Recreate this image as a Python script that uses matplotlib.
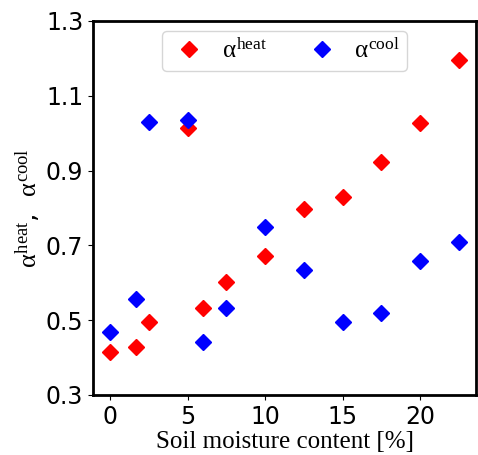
import matplotlib
matplotlib.use("Agg")
import matplotlib.pyplot as plt

plt.rcParams['mathtext.fontset'] = 'custom'
plt.rcParams['mathtext.rm'] = 'Liberation Serif'
plt.rcParams['mathtext.it'] = 'Liberation Serif'

# soil moisture content [%]
moisture = [0, 1.7, 2.5, 5, 6, 7.5, 10, 12.5, 15, 17.5, 20, 22.5]
alpha_heat = [0.416, 0.429, 0.494, 1.013, 0.533, 0.603, 0.672, 0.796, 0.829, 0.922, 1.026, 1.196]
alpha_cool = [0.468, 0.556, 1.030, 1.035, 0.443, 0.533, 0.750, 0.634, 0.494, 0.518, 0.659, 0.708]

fig = plt.figure(figsize=(4.78, 4.55), dpi=100)
ax = fig.add_axes([93 / 478, 1 - 395 / 455, (476 - 93) / 478, (395 - 21) / 455])

ax.plot(moisture, alpha_heat, 'D', color='red', markersize=8.5, linestyle='none', label=r'$\alpha^{\rm heat}$')
ax.plot(moisture, alpha_cool, 'D', color='blue', markersize=8.5, linestyle='none', label=r'$\alpha^{\rm cool}$')

ax.set_xlim(-1.1, 23.6)
ax.set_ylim(0.3, 1.3)
ax.set_yticks([0.3, 0.5, 0.7, 0.9, 1.1, 1.3])
ax.set_xticks([0, 5, 10, 15, 20])
ax.tick_params(labelsize=17)
for s in ax.spines.values():
    s.set_linewidth(2)

ax.set_xlabel('Soil moisture content [%]', family='Liberation Serif', fontsize=18, labelpad=2)
ax.set_ylabel(r'$\alpha^{\rm heat}$,  $\alpha^{\rm cool}$', fontsize=19, labelpad=2)

ax.legend(loc='upper center', ncol=2, fontsize=18, bbox_to_anchor=(0.5, 0.973), borderaxespad=0,
          columnspacing=1.4, handletextpad=0.5, borderpad=0.3, handlelength=1.6)

fig.savefig('out.png', dpi=100)
